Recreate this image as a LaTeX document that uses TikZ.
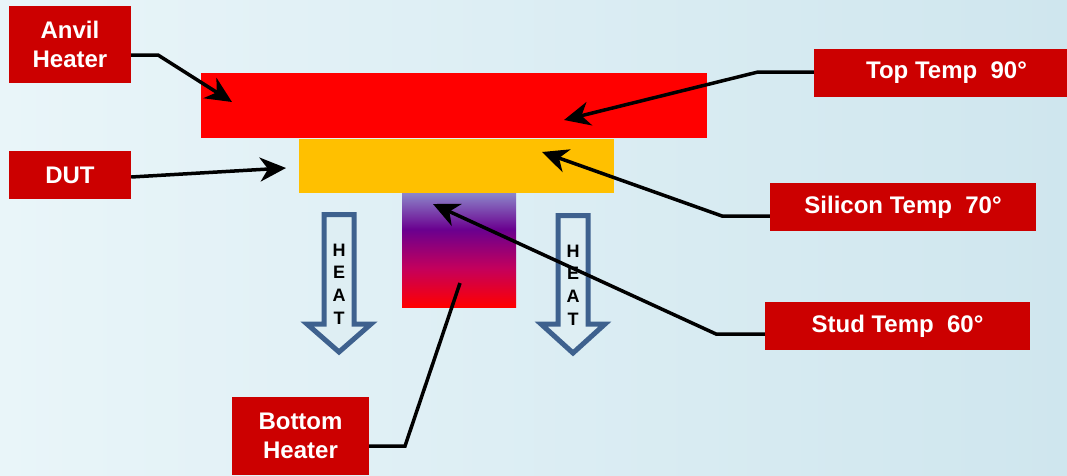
\documentclass[tikz,border=0pt]{standalone}
\usepackage{fontspec}
\setmainfont{Liberation Sans}
\usetikzlibrary{arrows.meta}

\definecolor{boxred}{RGB}{204,0,0}
\definecolor{anvilred}{RGB}{255,0,0}
\definecolor{dutorange}{RGB}{255,192,0}
\definecolor{heatline}{RGB}{62,97,142}
\definecolor{heatfill}{RGB}{222,238,243}
\definecolor{bgleft}{RGB}{233,245,249}
\definecolor{bgright}{RGB}{207,230,238}

% stud: red at the bottom, through magenta and purple, to lavender at the top
\pgfdeclareverticalshading{studshade}{100bp}{%
  color(0bp)=(rgb,255:red,255;green,0;blue,0);
  color(25bp)=(rgb,255:red,255;green,0;blue,0);
  color(42bp)=(rgb,255:red,196;green,0;blue,92);
  color(59bp)=(rgb,255:red,106;green,0;blue,143);
  color(75bp)=(rgb,255:red,140;green,134;blue,202);
  color(100bp)=(rgb,255:red,140;green,134;blue,202)}

\tikzset{
  label box/.style={fill=boxred, text=white, inner sep=0pt, align=center,
    font=\bfseries\fontsize{24}{29}\selectfont},
  plate/.style={inner sep=0pt, draw=none},
  leader/.style={line width=3.5pt, black},
  pointer/.style={leader, -{Stealth[length=26pt,width=24pt,inset=8pt]}},
  heat arrow/.style={draw=heatline, fill=heatfill, line width=5pt, line join=miter},
  heat text/.style={align=center, inner sep=0pt,
    font=\bfseries\fontsize{18}{22.7}\selectfont}
}

\begin{document}
\begin{tikzpicture}[x=1pt,y=-1pt]
  % background
  \useasboundingbox (0,0) rectangle (1067,475);
  \fill[left color=bgleft, right color=bgright] (0,0) rectangle (1067,475);

  % anvil, device under test and stud
  \node[plate, fill=anvilred, minimum width=506pt, minimum height=65pt] (anvilplate) at (454,105.5) {};
  \node[plate, fill=dutorange, minimum width=315pt, minimum height=54pt] (dutplate) at (456.5,166) {};
  \node[plate, shading=studshade, minimum width=114pt, minimum height=114pt] (studplate) at (459,250) {};

  % heat flow arrows
  \draw[heat arrow] (324,214.5) -- (354,214.5) -- (354,324) -- (371,324) -- (339,352)
    -- (307,324) -- (324,324) -- cycle;
  \draw[heat arrow] (558,215.5) -- (588,215.5) -- (588,324) -- (605,324) -- (573,353)
    -- (541,324) -- (558,324) -- cycle;
  \node[heat text] (heatL) at (339,284) {H\\E\\A\\T};
  \node[heat text] (heatR) at (573,285) {H\\E\\A\\T};

  % labels
  \node[label box, minimum width=122pt, minimum height=77pt] (anvil) at (70,44.5) {Anvil\\Heater};
  \node[label box, minimum width=122pt, minimum height=48pt] (dut) at (70,175) {DUT};
  \node[label box, minimum width=253pt, minimum height=48pt] (top) at (940.5,73) {\hspace*{12pt}Top Temp\ \ 90°};
  \node[label box, minimum width=266pt, minimum height=48pt] (sil) at (903,207) {Silicon Temp\ \ 70°};
  \node[label box, minimum width=265pt, minimum height=48pt] (stud) at (897.5,326) {Stud Temp\ \ 60°};
  \node[label box, minimum width=137pt, minimum height=78pt] (bottom) at (300.5,436) {Bottom\\Heater};

  % bends and pointer tips
  \coordinate (bAnvil) at (158,55);
  \coordinate (tAnvil) at (232,102);
  \coordinate (tDut) at (286,168);
  \coordinate (bTop) at (758,72);
  \coordinate (tTop) at (564,120);
  \coordinate (bSil) at (722,216);
  \coordinate (tSil) at (542,152);
  \coordinate (bStud) at (716,334);
  \coordinate (tStud) at (433,204);
  \coordinate (bBottom) at (405,446);
  \coordinate (eBottom) at (460,283);

  % leader lines
  \draw[pointer] (anvil.east |- bAnvil) -- (bAnvil) -- (tAnvil);
  \draw[pointer] ([yshift=-2pt]dut.east) -- (tDut);
  \draw[pointer] (top.west |- bTop) -- (bTop) -- (tTop);
  \draw[pointer] (sil.west |- bSil) -- (bSil) -- (tSil);
  \draw[pointer] (stud.west |- bStud) -- (bStud) -- (tStud);
  \draw[leader] (bottom.east |- bBottom) -- (bBottom) -- (eBottom);
\end{tikzpicture}
\end{document}
